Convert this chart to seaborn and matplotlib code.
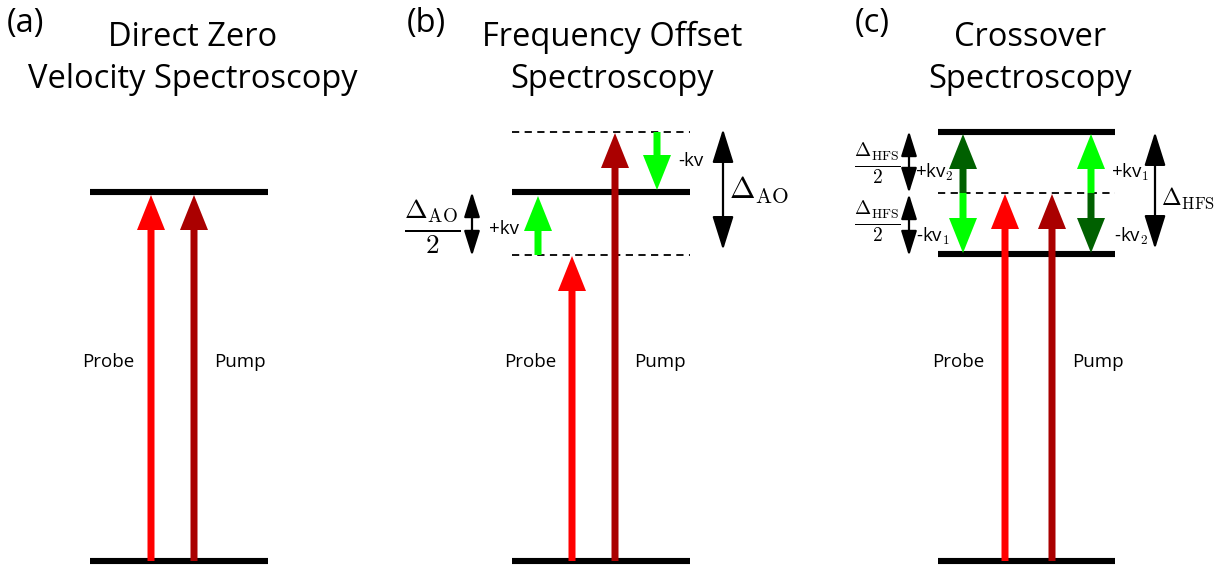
import numpy as np
import pandas as pd
import matplotlib
matplotlib.use("Agg")
import matplotlib.pyplot as plt
import seaborn as sns

# Panels: tag, title lines, x-range of the energy levels
panel_tags = ["(a)", "(b)", "(c)"]
title_line1 = ["Direct Zero", "Frequency Offset", "Crossover"]
title_line2 = ["Velocity Spectroscopy", "Spectroscopy", "Spectroscopy"]
panel_left = [90, 512, 938]
panel_right = [268, 690, 1115]

# energy levels (pixel rows), per panel
solid_levels = [[192, 561], [192, 561], [132, 254, 561]]
dashed_levels = [[], [132, 255], [193]]

# beam arrows: panel, x, start, end, colour name
arrow_panel = [0, 0, 1, 1, 1, 1, 2, 2, 2, 2, 2, 2]
arrow_x = [151, 194, 572, 615, 538, 657, 1005, 1052, 963, 963, 1091, 1091]
arrow_start = [561, 561, 561, 561, 255, 132, 561, 561, 193, 193, 193, 193]
arrow_end = [195, 195, 256, 133, 196, 190, 194, 194, 134, 253, 134, 253]
arrow_color = ["probe", "pump", "probe", "pump", "green", "green",
               "probe", "pump", "dkgreen", "green", "green", "dkgreen"]

colors = {"probe": "#ff0000", "pump": "#aa0000",
          "green": "#00ff00", "dkgreen": "#006000"}

# double-headed black spacing arrows: x, top, bottom, big?
span_x = [472, 723, 909, 909, 1155]
span_top = [192, 129, 131, 194, 132]
span_bottom = [256, 250, 193, 256, 249]
span_big = [False, True, False, False, True]

# text labels
probe_x = [108, 530, 958]
pump_x = [240, 660, 1098]
label_y = 362

sns.set_theme(style="white")
plt.rcParams['font.family'] = ['Open Sans', 'DejaVu Sans']
plt.rcParams['mathtext.fontset'] = 'cm'
plt.rcParams['text.color'] = 'black'

fig = plt.figure(figsize=(12.18, 5.67), dpi=100)
ax = fig.add_axes([0, 0, 1, 1])

# build level table for seaborn
rows = []
for p in range(3):
    for kind, lst in (("solid", solid_levels[p]), ("dashed", dashed_levels[p])):
        for y in lst:
            lid = f"{p}-{y}-{kind}"
            rows.append({"x": panel_left[p], "y": y, "level": lid, "kind": kind})
            rows.append({"x": panel_right[p], "y": y, "level": lid, "kind": kind})
levels = pd.DataFrame(rows)

sns.lineplot(data=levels[levels.kind == "solid"], x="x", y="y", units="level",
             estimator=None, sort=False, color="black", lw=4.4,
             solid_capstyle="butt", ax=ax, legend=False)
sns.lineplot(data=levels[levels.kind == "dashed"], x="x", y="y", units="level",
             estimator=None, sort=False, color="black", lw=1.3,
             dashes=(4, 3), ax=ax, legend=False)

# beams
for p, x, y0, y1, c in zip(arrow_panel, arrow_x, arrow_start, arrow_end, arrow_color):
    ax.arrow(x, y0, 0, y1 - y0, width=7, head_width=28, head_length=35,
             length_includes_head=True, color=colors[c], lw=0, zorder=3)

# spacing arrows
for x, y0, y1, big in zip(span_x, span_top, span_bottom, span_big):
    ms = 30 if big else 22
    ax.annotate("", xy=(x, y0), xytext=(x, y1),
                arrowprops=dict(arrowstyle="<|-|>,head_length=0.7,head_width=0.22",
                                color="black", lw=1.6, mutation_scale=ms,
                                shrinkA=0, shrinkB=0))

# titles
title_x = [193, 612, 1030]
tag_x = [25, 426, 872]
for p in range(3):
    ax.text(title_x[p], 46, title_line1[p], ha="center", va="baseline", fontsize=23.5)
    ax.text(title_x[p], 88, title_line2[p], ha="center", va="baseline", fontsize=23.5)
    ax.text(tag_x[p], 32, panel_tags[p], ha="center", va="baseline", fontsize=23.5)

for p in range(3):
    ax.text(probe_x[p], label_y, "Probe", ha="center", va="center", fontsize=13.5)
    ax.text(pump_x[p], label_y, "Pump", ha="center", va="center", fontsize=13.5)

# panel (b) annotations
ax.text(504, 229, "+kv", ha="center", va="center", fontsize=13.5)
ax.text(691, 161, "-kv", ha="center", va="center", fontsize=13.5)
ax.text(759, 190, r"$\Delta_{\mathrm{AO}}$", ha="center", va="center", fontsize=22)
ax.text(432, 226, r"$\frac{\Delta_{\mathrm{AO}}}{2}$", ha="center", va="center", fontsize=28)

# panel (c) annotations
ax.text(934, 172, r"+kv$_\mathsf{2}$", ha="center", va="center", fontsize=13.5)
ax.text(933, 236, r"-kv$_\mathsf{1}$", ha="center", va="center", fontsize=13.5)
ax.text(1130, 172, r"+kv$_\mathsf{1}$", ha="center", va="center", fontsize=13.5)
ax.text(1131, 236, r"-kv$_\mathsf{2}$", ha="center", va="center", fontsize=13.5)
ax.text(1188, 198, r"$\Delta_{\mathrm{HFS}}$", ha="center", va="center", fontsize=17)
ax.text(877, 163, r"$\frac{\Delta_{\mathrm{HFS}}}{2}$", ha="center", va="center", fontsize=20)
ax.text(877, 221, r"$\frac{\Delta_{\mathrm{HFS}}}{2}$", ha="center", va="center", fontsize=20)

ax.set_xlim(0, 1218)
ax.set_ylim(567, 0)
ax.axis("off")

fig.savefig("out.png", dpi=100, facecolor="white")
